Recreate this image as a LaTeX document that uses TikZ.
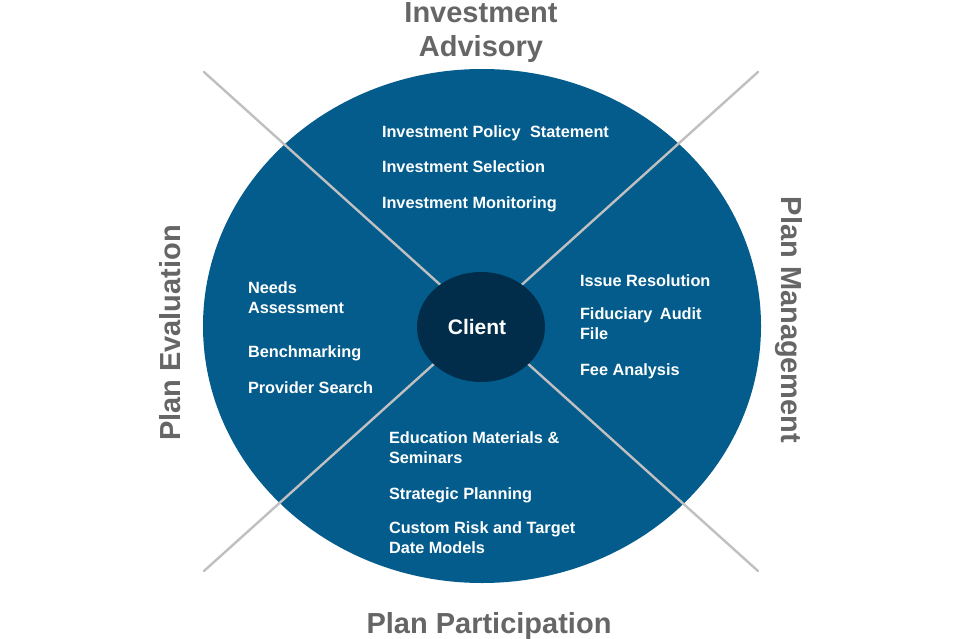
\documentclass[tikz,border=0pt]{standalone}
\usepackage{fontspec}
\setmainfont{Liberation Sans}
\usetikzlibrary{positioning,shapes.geometric}
\definecolor{wheelblue}{RGB}{3,92,140}
\definecolor{hubnavy}{RGB}{1,45,74}
\definecolor{labelgray}{RGB}{102,102,102}
\definecolor{spokegray}{RGB}{192,192,192}
\tikzset{
  base/.style={inner sep=0pt, outer sep=0mm},
  item/.style={base, font=\fontsize{16.3}{20}\selectfont\bfseries, text=white, align=left, anchor=base west},
  sector/.style={base, font=\fontsize{29}{34}\selectfont\bfseries, text=labelgray, align=center, anchor=base},
  spoke/.style={draw=spokegray, line width=2.4pt, line cap=round},
  hub/.style={ellipse, fill=hubnavy, minimum width=128pt, minimum height=110pt, base},
}

\begin{document}
\begin{tikzpicture}[x=1pt, y=-1pt]
  \fill[white] (0,0) rectangle (960,639);
  \useasboundingbox (0,0) rectangle (960,639);

  \fill[wheelblue] (482,326) ellipse [x radius=279, y radius=257];

  \coordinate (nw) at (204,72);
  \coordinate (ne) at (758,72);
  \coordinate (sw) at (204,571);
  \coordinate (se) at (758,571);
  \draw[spoke] (nw) -- (se);
  \draw[spoke] (ne) -- (sw);

  \node[hub] (client) at (481,327) {};
  \node[base, font=\fontsize{21}{24}\selectfont\bfseries, text=white, anchor=base] (clienttxt) at (477,334) {Client};

  % sector titles (base = last line)
  \node[sector] (advisory) at (481,57) {Investment\\Advisory};
  \node[sector] (participation) at (489,633) {Plan Participation};
  \node[sector, rotate=90] (evaluation) at (180,333) {Plan Evaluation};
  \node[sector, rotate=-90] (management) at (781,320) {Plan Management};

  % top
  \node[item] (ips) at (382,138) {Investment Policy\hspace{5pt} Statement};
  \node[item] (selection) at (382,173) {Investment Selection};
  \node[item] (monitoring) at (382,208) {Investment Monitoring};

  % left
  \node[item] (needs) at (248,313) {Needs\\Assessment};
  \node[item] (bench) at (248,357) {Benchmarking};
  \node[item] (provider) at (248,393) {Provider Search};

  % right
  \node[item] (issue) at (580,286) {Issue Resolution};
  \node[item] (audit) at (580,339) {Fiduciary\hspace{3pt} Audit\\File};
  \node[item] (fee) at (580,375) {Fee Analysis};

  % bottom
  \node[item] (education) at (389,463) {Education Materials \&\\Seminars};
  \node[item] (strategic) at (389,499) {Strategic Planning};
  \node[item] (custom) at (389,553) {Custom Risk and Target\\Date Models};
\end{tikzpicture}
\end{document}
